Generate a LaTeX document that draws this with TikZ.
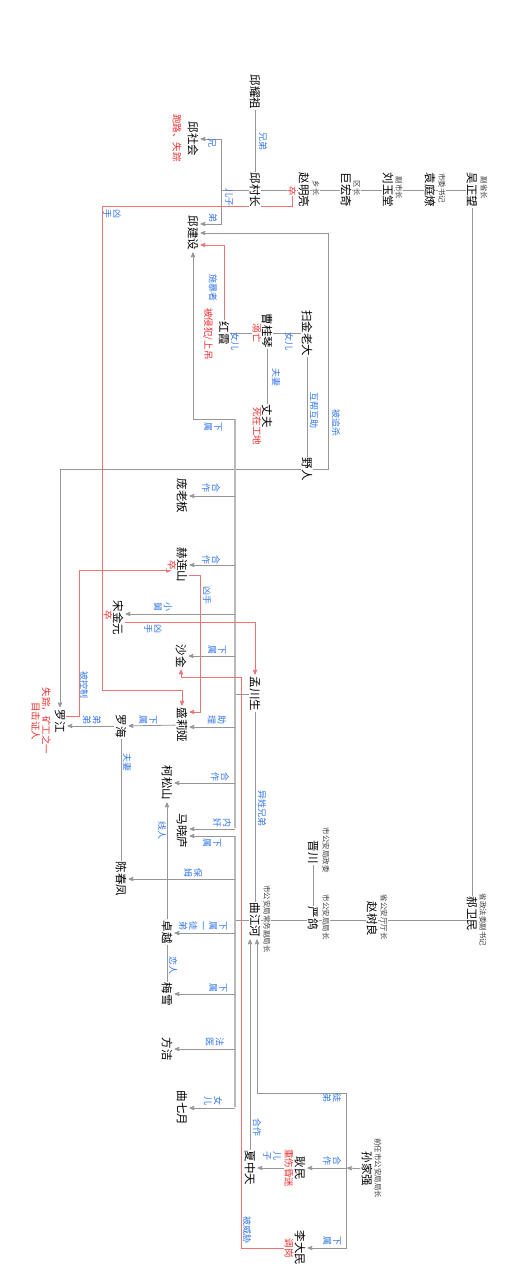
\documentclass[tikz,border=0pt]{standalone}
\usepackage{fontspec}
\setmainfont{Noto Sans CJK SC}
\usepackage{tikz}
\usetikzlibrary{arrows,backgrounds}

\definecolor{relblue}{RGB}{51,119,238}
\definecolor{deadred}{RGB}{240,45,45}
\definecolor{killline}{RGB}{238,115,115}
\definecolor{linkgray}{RGB}{150,150,150}
\definecolor{trunkgray}{RGB}{185,185,185}

\begin{document}
\begin{tikzpicture}[x=1pt,y=-1pt,>=stealth',shorten >=1pt,
    every node/.style={rotate=-90,inner sep=1pt},
    pers/.style={font=\fontsize{11.5}{12}\selectfont,fill=white},
    ttl/.style={font=\fontsize{7.5}{8}\selectfont,text=black!75,fill=white,inner sep=0.5pt},
    stat/.style={font=\fontsize{9.5}{10.5}\selectfont,text=deadred,fill=white,inner sep=0.5pt,align=center},
    rel/.style={font=\fontsize{9}{10}\selectfont,text=relblue,inner sep=0pt,align=center},
    lnk/.style={draw=linkgray,line width=0.8pt},
    trunk/.style={draw=trunkgray,line width=2pt},
    kill/.style={draw=killline,line width=0.8pt}]

  % people
  \node[pers] (yzz) at (255,92)  {邱耀祖};
  \node[pers] (qcz) at (255,190) {邱村长};
  \node[pers] (zml) at (304,190) {赵明亮};
  \node[pers] (jhq) at (346,190) {巨宏奇};
  \node[pers] (lyt) at (388,190) {刘玉堂};
  \node[pers] (ytl) at (430,190) {袁庭燎};
  \node[pers] (wzw) at (472,190) {吴正望};
  \node[pers] (qsh) at (193,139) {邱社会};
  \node[pers] (qjs) at (193,233) {邱建设};
  \node[pers] (sjl) at (307,333) {扫金老大};
  \node[pers] (cgq) at (267,331) {曹桂琴};
  \node[pers] (hx)  at (224,333) {红霞};
  \node[pers] (zf)  at (267,416) {丈夫};
  \node[pers] (yr)  at (307,469) {野人};
  \node[pers] (plb) at (182,496) {庞老板};
  \node[pers] (hls) at (182,565) {赫连山};
  \node[pers] (sjy) at (118,618) {宋金元};
  \node[pers] (sj)  at (181,656) {沙金};
  \node[pers] (mcs) at (255,694) {孟川生};
  \node[pers] (sly) at (182,725) {盛莉娅};
  \node[pers] (lh)  at (121,726) {罗海};
  \node[pers] (lj)  at (60,721)  {罗江};
  \node[pers] (ksh) at (167,783) {柯松山};
  \node[pers] (mxl) at (182,831) {马晓庐};
  \node[pers] (ccf) at (121,879) {陈春凤};
  \node[pers] (qjh) at (255,920) {曲江河};
  \node[pers] (jc)  at (313,852) {晋川};
  \node[pers] (yg)  at (313,918) {严鸽};
  \node[pers] (zsl) at (372,919) {赵树良};
  \node[pers] (hwm) at (472,914) {郝卫民};
  \node[pers] (zy)  at (167,932) {卓越};
  \node[pers] (mx)  at (167,994) {梅雪};
  \node[pers] (fj)  at (167,1049) {方洁};
  \node[pers] (qqy) at (182,1108) {曲七月};
  \node[pers] (sjq) at (367,1169) {孙家强};
  \node[pers] (gm)  at (300,1168) {耿民};
  \node[pers] (xzt) at (250,1168) {夏中天};
  \node[pers] (ldm) at (300,1248) {李大民};

  % titles
  \node[ttl] at (316,188) {乡长};
  \node[ttl] at (357,188) {区长};
  \node[ttl] at (399,188) {副市长};
  \node[ttl] at (442,188) {市委书记};
  \node[ttl] at (484,188) {副省长};
  \node[ttl] at (483,920) {省政法委副书记};
  \node[ttl] at (384,917) {省公安厅厅长};
  \node[ttl] at (326,917) {市公安局局长};
  \node[ttl] at (326,850) {市公安局政委};
  \node[ttl] at (267,919) {市公安局常务副局长};
  \node[ttl] at (378,1168) {前任市公安局局长};

  % fates
  \node[stat] (zmld) at (292,191) {卒};
  \node[stat] at (177,138) {跑路、失踪};
  \node[stat] at (257,333) {溺亡};
  \node[stat] at (208,334) {被侵犯/上吊};
  \node[stat] at (257,426) {死在工地};
  \node[stat] (hlsd) at (172,565) {卒};
  \node[stat] at (108,615) {卒};
  \node[stat] at (41,721) {失踪，矿工之一\\目击证人};
  \node[stat] at (289,1168) {重伤昏迷};
  \node[stat] at (289,1248) {调岗};

  % relations
  \node[rel] at (263,141) {兄弟};
  \node[rel] at (229,197) {儿子};
  \node[rel] at (212,143) {兄};
  \node[rel] at (213,218) {弟};
  \node[rel] at (112,214) {凶\\手};
  \node[rel] at (213,288) {施暴者};
  \node[rel] at (289,341) {女儿};
  \node[rel] at (235,341) {女儿};
  \node[rel] at (276,377) {夫妻};
  \node[rel] at (314,410) {互帮互助};
  \node[rel] at (336,423) {被追杀};
  \node[rel] at (213,427) {下\\属};
  \node[rel] at (211,488) {合\\作};
  \node[rel] at (211,560) {合\\作};
  \node[rel] at (207,595) {凶手};
  \node[rel] at (163,607) {小\\舅};
  \node[rel] at (153,629) {凶\\手};
  \node[rel] at (217,650) {下\\属};
  \node[rel] at (84,685)  {被控制};
  \node[rel] at (217,720) {助\\理};
  \node[rel] at (148,720) {下\\属};
  \node[rel] at (92,720)  {弟\\弟};
  \node[rel] at (127,762) {夫妻};
  \node[rel] at (220,777) {合\\作};
  \node[rel] at (262,808) {异姓兄弟};
  \node[rel] at (222,823) {内\\奸};
  \node[rel] at (162,830) {线人};
  \node[rel] at (212,843) {下\\属};
  \node[rel] at (193,873) {保\\姆};
  \node[rel] at (203,926) {下\\属\\一\\徒\\弟};
  \node[rel] at (173,965) {恋人};
  \node[rel] at (218,988) {下\\属};
  \node[rel] at (215,1042) {法\\医};
  \node[rel] at (213,1101) {女\\儿};
  \node[rel] at (332,1098) {徒\\弟};
  \node[rel] at (257,1127) {合作};
  \node[rel] at (272,1156) {儿\\子};
  \node[rel] at (332,1161) {合\\作};
  \node[rel] at (247,1230) {被威胁};
  \node[rel] at (332,1241) {下\\属};

  \coordinate (j1) at (221,190);
  \coordinate (j2) at (346,1168);
  \coordinate (ta) at (235,419);
  \coordinate (tb) at (235,829);
  \coordinate (tc) at (235,836);
  \coordinate (td) at (235,1108);
  \coordinate (qjhb) at ([xshift=2pt]qjh.east);

  \begin{scope}[on background layer]
    \fill[white] (0,0) rectangle (529,1280);
    % family and officials
    \draw[lnk] (yzz.center) -- (qcz.center);
    \draw[lnk] (qcz.center) -- (wzw.center);
    \draw[lnk] (wzw.center) -- (hwm.center);
    \draw[lnk] (qcz.center) -- (j1);
    \draw[lnk,->] (j1) |- (qsh);
    \draw[lnk,->] (j1) |- (qjs.north |- 0,224);
    \draw[lnk] (sjl.center) -- (hx.center);
    \draw[lnk] (cgq.center) -- (zf.center);
    \draw[lnk] (sjl.center) -- (yr.center);
    \draw[lnk,->] (yr.north) -- ++(15,0) |- (qjs);
    \draw[lnk,->] (yr) -| (lj);
    % Meng Chuansheng
    \draw[trunk] (ta) -- (tb);
    \draw[lnk,->] (ta) -| (qjs);
    \draw[lnk,->] (ta |- plb) -- (plb);
    \draw[lnk,->] (ta |- hls) -- (hls);
    \draw[lnk,->] (ta |- 0,614) -- (sjy.north |- 0,614);
    \draw[lnk,->] (ta |- sj) -- (sj);
    \draw[lnk] (mcs.center) -- (ta |- mcs);
    \draw[lnk,->] (ta |- 0,727) -- (sly.north |- 0,727);
    \draw[lnk,->] (ta |- ksh) -- (ksh);
    \draw[lnk,->] (tb) -- (mxl.north |- tb);
    \draw[lnk] (mcs.center) -- (mcs.center |- qjh.center);
    \draw[lnk,->] (sly) -- (lh);
    \draw[lnk,->] (lh) -- (lh -| lj.north);
    \draw[lnk] (lh.center) -- (ccf.center);
    % Qu Jianghe
    \draw[trunk] (tc) -- (td);
    \draw[lnk,->] (tc) -- (mxl.north |- tc);
    \draw[lnk,->] (tc |- ccf) -- (ccf);
    \draw[lnk] (qjh.center) -- (tc |- qjh);
    \draw[lnk,->] (tc |- 0,933) -- (zy.north |- 0,933);
    \draw[lnk,->] (tc |- mx) -- (mx);
    \draw[lnk,->] (tc |- fj) -- (fj);
    \draw[lnk,->] (td) -- (qqy);
    \draw[lnk,->] (zy) -- (ksh);
    \draw[lnk] (zy.center) -- (mx.center);
    \draw[lnk] (qjh.center) -- (qjh.center -| hwm.center);
    \draw[lnk] (jc.center) -- (yg.center);
    % Sun Jiaqiang
    \draw[lnk,->] (sjq) -- (j2);
    \draw[lnk,->] (j2) |- (qjhb |- 0,1093) -- (qjhb);
    \draw[lnk,->] (j2) -- (gm);
    \draw[lnk,->] (j2) |- (ldm);
    \draw[lnk,->] (gm) -- (xzt);
    \draw[lnk,->] (xzt) -- (xzt |- qjh.east);
    % killings
    \draw[kill,->] (zmld.east) -- ++(0,10) -| (102,690) -| (sly);
    \draw[kill,->] (hx) |- (qjs.north |- 0,245);
    \draw[kill,->] (hls.north |- 0,575) -- (200,575) |- (sly.north |- 0,712);
    \draw[kill,->] (lj.north |- 0,716) -- (79,716) |- (hlsd.east);
    \draw[kill,->] (sjy.north |- 0,622) -| (mcs);
    \draw[kill,->] (ldm) -| (241,677) -| (sj);
  \end{scope}
  \path[use as bounding box] (0,0) rectangle (529,1280);
\end{tikzpicture}
\end{document}
